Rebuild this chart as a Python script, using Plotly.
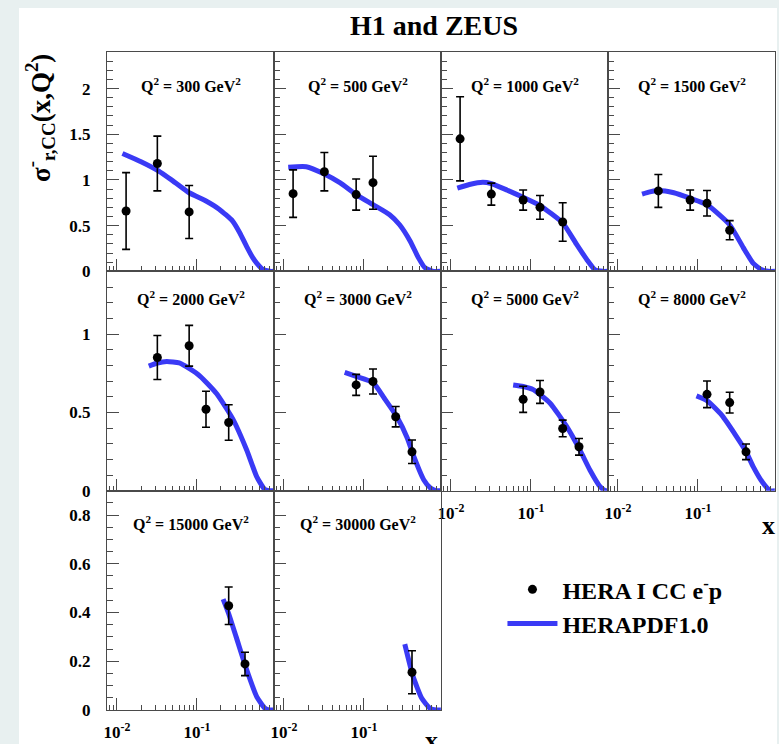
import plotly.graph_objects as go
from plotly.subplots import make_subplots

# ---------------- data ----------------
Q2_LABELS = ["300", "500", "1000", "1500", "2000", "3000", "5000", "8000", "15000", "30000"]

# HERA I CC e-p measurements
DATA_X = [
    [0.013, 0.032, 0.08],
    [0.013, 0.032, 0.08, 0.13],
    [0.013, 0.032, 0.08, 0.13, 0.25],
    [0.032, 0.08, 0.13, 0.25],
    [0.032, 0.08, 0.13, 0.25],
    [0.08, 0.13, 0.25, 0.4],
    [0.08, 0.13, 0.25, 0.4],
    [0.13, 0.25, 0.4],
    [0.25, 0.4],
    [0.4],
]
DATA_Y = [
    [0.66, 1.18, 0.65],
    [0.85, 1.09, 0.84, 0.97],
    [1.45, 0.845, 0.78, 0.70, 0.54],
    [0.88, 0.78, 0.745, 0.45],
    [0.85, 0.925, 0.52, 0.435],
    [0.675, 0.697, 0.472, 0.248],
    [0.583, 0.63, 0.397, 0.28],
    [0.615, 0.562, 0.248],
    [0.428, 0.189],
    [0.155],
]
DATA_ERR = [
    [0.42, 0.30, 0.29],
    [0.26, 0.21, 0.17, 0.29],
    [0.46, 0.12, 0.11, 0.13, 0.21],
    [0.18, 0.11, 0.14, 0.105],
    [0.14, 0.13, 0.115, 0.113],
    [0.067, 0.08, 0.065, 0.075],
    [0.083, 0.073, 0.053, 0.053],
    [0.085, 0.066, 0.05],
    [0.077, 0.048],
    [0.088],
]

# HERAPDF1.0 prediction
CURVE_X = [
    [0.0117, 0.02, 0.033, 0.05, 0.08, 0.13, 0.19, 0.28, 0.345, 0.42, 0.5, 0.56, 0.67, 0.82, 0.92],
    [0.0113, 0.019, 0.032, 0.05, 0.08, 0.13, 0.21, 0.28, 0.38, 0.48, 0.58, 0.74, 0.92],
    [0.012, 0.017, 0.025, 0.032, 0.05, 0.08, 0.13, 0.25, 0.37, 0.5, 0.63, 0.8, 0.92],
    [0.02, 0.025, 0.032, 0.05, 0.08, 0.13, 0.25, 0.37, 0.49, 0.62, 0.76, 0.92],
    [0.025, 0.032, 0.042, 0.06, 0.08, 0.11, 0.176, 0.28, 0.42, 0.56, 0.7, 0.8, 0.92],
    [0.0575, 0.08, 0.13, 0.18, 0.26, 0.35, 0.42, 0.56, 0.68, 0.8, 0.92],
    [0.06, 0.08, 0.107, 0.173, 0.28, 0.41, 0.55, 0.73, 0.85, 0.92],
    [0.096, 0.13, 0.2, 0.3, 0.4, 0.49, 0.65, 0.8, 0.92],
    [0.213, 0.25, 0.31, 0.42, 0.56, 0.71, 0.8, 0.92],
    [0.325, 0.41, 0.53, 0.67, 0.8, 0.92],
]
CURVE_Y = [
    [1.29, 1.20, 1.10, 0.99, 0.86, 0.77, 0.68, 0.55, 0.42, 0.27, 0.15, 0.09, 0.02, 0.0, 0.0],
    [1.14, 1.145, 1.065, 0.97, 0.84, 0.73, 0.62, 0.51, 0.33, 0.15, 0.04, 0.0, 0.0],
    [0.91, 0.95, 0.975, 0.96, 0.89, 0.81, 0.72, 0.53, 0.30, 0.13, 0.02, 0.0, 0.0],
    [0.845, 0.87, 0.885, 0.86, 0.80, 0.73, 0.51, 0.26, 0.09, 0.02, 0.0, 0.0],
    [0.795, 0.815, 0.825, 0.815, 0.78, 0.73, 0.62, 0.46, 0.26, 0.09, 0.01, 0.0, 0.0],
    [0.755, 0.73, 0.69, 0.59, 0.47, 0.335, 0.22, 0.07, 0.017, 0.0, 0.0],
    [0.675, 0.665, 0.645, 0.56, 0.41, 0.26, 0.13, 0.027, 0.0, 0.0],
    [0.605, 0.575, 0.48, 0.35, 0.25, 0.155, 0.05, 0.0, 0.0],
    [0.455, 0.395, 0.30, 0.165, 0.055, 0.007, 0.0, 0.0],
    [0.27, 0.14, 0.048, 0.007, 0.0, 0.0],
]

PANEL_POS = [(1, 1), (1, 2), (1, 3), (1, 4),
             (2, 1), (2, 2), (2, 3), (2, 4),
             (3, 1), (3, 2)]

ROW_YRANGE = {1: [0, 2.4], 2: [0, 1.4], 3: [0, 0.9]}
ROW_YDTICK = {1: 0.5, 2: 0.5, 3: 0.2}
ROW_YMINOR = {1: 0.1, 2: 0.1, 3: 0.05}

X_TICKVALS = [0.01, 0.1]
X_TICKTEXT = ["10<sup>-2</sup>", "10<sup>-1</sup>"]
X_MINORVALS = [0.008, 0.009] + [k / 100 for k in range(2, 10)] + [k / 10 for k in range(2, 10)]

# ---------------- style ----------------
FONT = "Liberation Serif"
BLUE = "rgb(58,58,245)"
AXC = "#4a4a4a"
OUTER = "#e8f0f0"

fig = make_subplots(
    rows=3, cols=4,
    horizontal_spacing=0, vertical_spacing=0,
    specs=[[{}, {}, {}, {}], [{}, {}, {}, {}], [{}, {}, None, None]],
)

for i, (r, c) in enumerate(PANEL_POS):
    fig.add_trace(
        go.Scatter(
            x=CURVE_X[i], y=CURVE_Y[i], mode="lines",
            line=dict(color=BLUE, width=5, shape="spline", smoothing=0.5),
            name="HERAPDF1.0", legendgroup="pdf", legendrank=2,
            showlegend=(i == 0), hoverinfo="skip",
        ),
        row=r, col=c,
    )
    fig.add_trace(
        go.Scatter(
            x=DATA_X[i], y=DATA_Y[i], mode="markers",
            marker=dict(color="black", size=9),
            error_y=dict(type="data", array=DATA_ERR[i], color="black", thickness=1.6, width=4),
            name="HERA I CC e<sup>-</sup>p", legendgroup="data", legendrank=1,
            showlegend=(i == 0),
        ),
        row=r, col=c,
    )

    show_x_labels = (r == 3) or (r == 2 and c >= 3)
    fig.update_xaxes(
        type="log", range=[-2.125, -0.035],
        tickmode="array", tickvals=X_TICKVALS, ticktext=X_TICKTEXT,
        ticks="inside", ticklen=12, tickwidth=1, tickcolor=AXC,
        minor=dict(tickmode="array", tickvals=X_MINORVALS, ticks="inside", ticklen=5,
                   tickwidth=1, tickcolor=AXC, showgrid=False),
        showline=True, linecolor=AXC, linewidth=1, mirror=True,
        showgrid=False, zeroline=False, automargin=False,
        showticklabels=show_x_labels, ticklabelstandoff=7,
        tickfont=dict(family=FONT, size=17, color="black", weight="bold"),
        row=r, col=c,
    )
    fig.update_yaxes(
        range=ROW_YRANGE[r], tickmode="linear", tick0=0, dtick=ROW_YDTICK[r],
        ticks="inside", ticklen=12, tickwidth=1, tickcolor=AXC,
        minor=dict(tick0=0, dtick=ROW_YMINOR[r], ticks="inside", ticklen=6,
                   tickwidth=1, tickcolor=AXC, showgrid=False),
        showline=True, linecolor=AXC, linewidth=1, mirror=True,
        showgrid=False, zeroline=False, automargin=False,
        showticklabels=(c == 1), ticklabelstandoff=12,
        tickfont=dict(family=FONT, size=17, color="black", weight="bold"),
        row=r, col=c,
    )

# panel labels
annotations = []
LABEL_OFFSET = {1: 33, 2: 27, 3: 32}
for i, (r, c) in enumerate(PANEL_POS):
    xa = "x" if i == 0 else f"x{i + 1}"
    ya = "y" if i == 0 else f"y{i + 1}"
    annotations.append(dict(
        text=f"Q<sup>2</sup> = {Q2_LABELS[i]} GeV<sup>2</sup>",
        xref=f"{xa} domain", yref=f"{ya} domain",
        x=0.5, y=1 - LABEL_OFFSET[r] / 219.3, xanchor="center", yanchor="middle",
        showarrow=False, font=dict(family=FONT, size=16, color="black", weight="bold"),
    ))

annotations += [
    dict(text="H1 and ZEUS", xref="paper", yref="paper",
         x=0.490, y=1.041, xanchor="center", yanchor="middle", showarrow=False,
         font=dict(family=FONT, size=28, color="black", weight="bold")),
    dict(text="σ<sup>-</sup><sub>r,CC</sub>(x,Q<sup>2</sup>)", xref="paper", yref="paper",
         x=-0.100, y=0.90, xanchor="center", yanchor="middle", textangle=-90,
         showarrow=False, font=dict(family=FONT, size=27, color="black", weight="bold")),
    dict(text="x", xref="paper", yref="paper", x=0.991, y=0.281,
         xanchor="center", yanchor="middle", showarrow=False,
         font=dict(family=FONT, size=26, color="black", weight="bold")),
    dict(text="x", xref="paper", yref="paper", x=0.486, y=-0.047,
         xanchor="center", yanchor="middle", showarrow=False,
         font=dict(family=FONT, size=26, color="black", weight="bold")),
]

fig.update_layout(
    width=779, height=744,
    margin=dict(l=107, r=4, t=52, b=34, autoexpand=False),
    paper_bgcolor=OUTER, plot_bgcolor="white",
    font=dict(family=FONT, size=17, color="black"),
    annotations=annotations,
    showlegend=True,
    legend=dict(
        x=0.592, y=0.217, xanchor="left", yanchor="top",
        bgcolor="rgba(0,0,0,0)", borderwidth=0,
        font=dict(family=FONT, size=24, color="black", weight="bold"),
        traceorder="normal", tracegroupgap=4, itemwidth=50,
    ),
    shapes=[dict(type="rect", xref="paper", yref="paper",
                 x0=-0.1317, x1=1.003, y0=-0.06, y1=1.067,
                 fillcolor="white", line=dict(width=0), layer="below")],
)

fig.write_html(
    "out.html",
    config={"displayModeBar": False},
    post_script=(
        "document.body.style.margin='0';"
        "document.body.style.padding='0';"
        "document.body.style.overflow='hidden';"
        "document.body.style.background='" + OUTER + "';"
    ),
)
